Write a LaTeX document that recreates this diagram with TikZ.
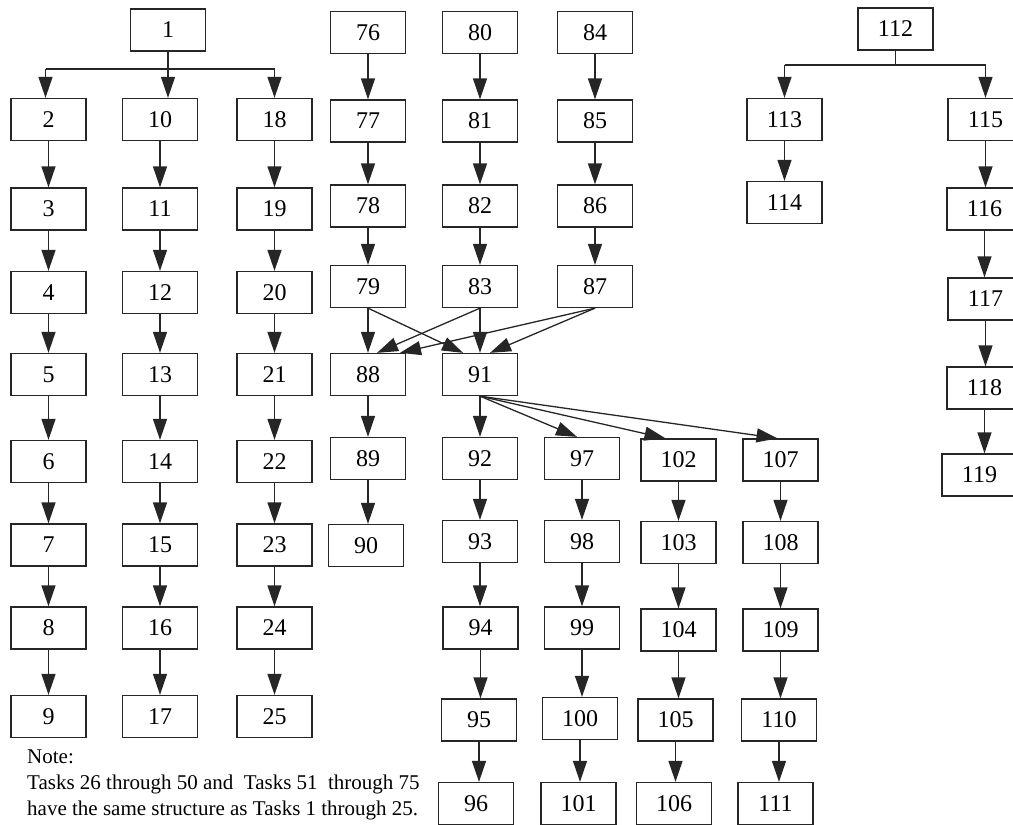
\documentclass[tikz,border=0pt]{standalone}
\usepackage{fontspec}
\setmainfont{Liberation Serif}
\usetikzlibrary{arrows.meta}
\begin{document}
\begin{tikzpicture}[x=1pt,y=-1pt,
  task/.style={draw=black!85,line width=1.3pt,minimum width=75pt,minimum height=42pt,inner sep=0pt,
    font=\fontsize{24}{28}\selectfont},
  arr/.style={draw=black!85,line width=1.3pt,-{Triangle[length=21pt,width=14pt]}},
  ln/.style={draw=black!85,line width=1.3pt},
  note/.style={anchor=base west,inner sep=0pt,font=\fontsize{21}{25}\selectfont}]
\useasboundingbox (0,0) rectangle (1013,825);
\clip (0,0) rectangle (1013,825);
% column A, B, C
\node[task] (n1) at (168,30) {1};
\foreach \a/\b/\c/\y in {2/10/18/119.5, 3/11/19/209, 4/12/20/292.5, 5/13/21/374.5, 6/14/22/461.5, 7/15/23/545, 8/16/24/628, 9/17/25/716.5}{
  \node[task] (n\a) at (48.5,\y) {\a};
  \node[task] (n\b) at (160,\y) {\b};
  \node[task] (n\c) at (274.5,\y) {\c};
}
\foreach \s/\t in {2/3,3/4,4/5,5/6,6/7,7/8,8/9,10/11,11/12,12/13,13/14,14/15,15/16,16/17,18/19,19/20,20/21,21/22,22/23,23/24,24/25}{
  \draw[arr] (n\s.south) -- (n\s.south |- n\t.north);
}
\coordinate (b1) at (168,69);
\draw[ln] (n1.south) -- (n1.south |- b1);
\draw[ln] ([xshift=-3pt]n2.north |- b1) -- (n18.north |- b1);
\draw[arr] ([xshift=-3pt]n2.north |- b1) -- ([xshift=-3pt]n2.north);
\draw[arr] (n1.south |- b1) -- (n1.south |- n10.north);
\draw[arr] (n18.north |- b1) -- (n18.north);
% columns D, E, F
\foreach \d/\e/\f/\y in {76/80/84/32.5, 77/81/85/121, 78/82/86/206, 79/83/87/286.5}{
  \node[task] (n\d) at (368,\y) {\d};
  \node[task] (n\e) at (480,\y) {\e};
  \node[task] (n\f) at (595,\y) {\f};
}
\node[task] (n88) at (368,374.5) {88};
\node[task] (n89) at (368,458.5) {89};
\node[task] (n90) at (366,545.5) {90};
\node[task] (n91) at (480,374.5) {91};
\node[task] (n92) at (480,458.5) {92};
\node[task] (n93) at (480,541.5) {93};
\node[task] (n94) at (480.5,628) {94};
\node[task] (n95) at (479,720) {95};
\node[task] (n96) at (476,803.5) {96};
\node[task] (n97) at (582,458.5) {97};
\node[task] (n98) at (582,541.5) {98};
\node[task] (n99) at (582,628) {99};
\node[task] (n100) at (580,718.5) {100};
\node[task] (n101) at (578.5,803.5) {101};
\node[task] (n102) at (678.5,460) {102};
\node[task] (n103) at (678.5,542.5) {103};
\node[task] (n104) at (678.5,630) {104};
\node[task] (n105) at (675.5,720) {105};
\node[task] (n106) at (674,803.5) {106};
\node[task] (n107) at (780.5,460) {107};
\node[task] (n108) at (780.5,542.5) {108};
\node[task] (n109) at (780.5,630) {109};
\node[task] (n110) at (779,720) {110};
\node[task] (n111) at (775.5,803.5) {111};
\foreach \s/\t in {76/77,77/78,78/79,79/88,88/89,89/90,80/81,81/82,82/83,83/91,91/92,92/93,93/94,94/95,95/96,84/85,85/86,86/87,97/98,98/99,99/100,100/101,102/103,103/104,104/105,105/106,107/108,108/109,109/110,110/111}{
  \draw[arr] (n\s.south) -- (n\s.south |- n\t.north);
}
\draw[arr] (n79.south) -- ([xshift=-17pt]n91.north);
\draw[arr] (n83.south) -- ([xshift=9pt]n88.north);
\draw[arr] (n87.south) -- ([xshift=32pt]n88.north);
\draw[arr] (n87.south) -- ([xshift=10pt]n91.north);
\draw[arr] (n91.south) -- ([xshift=-5pt]n97.north);
\draw[arr] (n91.south) -- ([xshift=-13pt]n102.north);
\draw[arr] (n91.south) -- ([xshift=-3pt]n107.north);
% right group
\node[task] (n112) at (895.5,29) {112};
\node[task] (n113) at (784.5,119.5) {113};
\node[task] (n114) at (784.5,202.5) {114};
\node[task] (n115) at (985.5,119.5) {115};
\node[task] (n116) at (984.5,209) {116};
\node[task] (n117) at (985.5,299) {117};
\node[task] (n118) at (984.5,388) {118};
\node[task] (n119) at (979.5,475) {119};
\coordinate (b2) at (895.5,65);
\draw[ln] (n112.south) -- (b2);
\draw[ln] (n113.north |- b2) -- (n115.north |- b2);
\draw[arr] (n113.north |- b2) -- (n113.north);
\draw[arr] (n115.north |- b2) -- (n115.north);
\foreach \s/\t in {113/114,115/116,116/117,117/118,118/119}{
  \draw[arr] (n\s.south) -- (n\s.south |- n\t.north);
}
% note
\node[note] (note1) at (27,763) {Note:};
\node[note] (note2) at (27,789) {Tasks 26 through 50 and\ \ Tasks 51\ \ through 75};
\node[note] (note3) at (27,815) {have the same structure as Tasks 1 through 25.};
\end{tikzpicture}
\end{document}
